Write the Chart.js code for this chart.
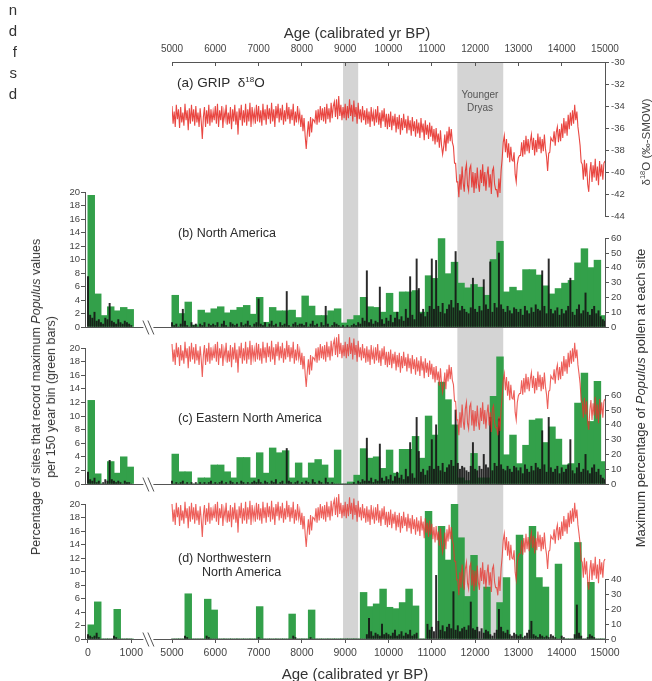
<!DOCTYPE html>
<html><head><meta charset="utf-8">
<script src="https://cdn.jsdelivr.net/npm/chart.js@4.4.1/dist/chart.umd.min.js"></script>
<style>
html,body{margin:0;padding:0;background:#fff;}
#wrap{position:relative;width:652px;height:681px;overflow:hidden;font-family:"Liberation Sans",Arial,sans-serif;color:#2b2b2b;}
#wrap canvas{position:absolute;left:0;top:0;}
.t{position:absolute;white-space:nowrap;line-height:1;}
.c{transform:translate(-50%,-50%);}
.rot{position:absolute;white-space:nowrap;transform:translate(-50%,-50%) rotate(-90deg);text-align:center;}
</style></head><body>
<div id="wrap">
<canvas id="cA" width="652" height="681"></canvas>
<canvas id="cB" width="652" height="681"></canvas>
<canvas id="cC" width="652" height="681"></canvas>
<canvas id="cD" width="652" height="681"></canvas>

<div class="t" style="right:635px;top:-1px;font-size:15px;line-height:21px;text-align:right;color:#333">n<br>d<br>f<br>s<br>d</div>
<div class="t c" style="left:357px;top:32px;font-size:15px;color:#333">Age (calibrated yr BP)</div>
<div class="t c" style="left:355px;top:673px;font-size:15px;color:#333">Age (calibrated yr BP)</div>
<div class="t" style="left:177px;top:76px;font-size:13.5px">(a) GRIP&nbsp; δ<sup style="font-size:8px;vertical-align:5px">18</sup>O</div>
<div class="t c" style="left:480px;top:95px;font-size:10px;color:#555">Younger</div>
<div class="t c" style="left:480px;top:108px;font-size:10px;color:#555">Dryas</div>
<div class="t" style="left:178px;top:227px;font-size:12.5px">(b) North America</div>
<div class="t" style="left:178px;top:412px;font-size:12.5px">(c) Eastern North America</div>
<div class="t" style="left:178px;top:552px;font-size:12.5px">(d) Northwestern</div>
<div class="t" style="left:202px;top:566px;font-size:12.5px">North America</div>
<div class="rot" style="left:645px;top:142px;font-size:11.5px;color:#444">δ<sup style="font-size:7.5px">18</sup>O (‰-SMOW)</div>
<div class="rot" style="left:640px;top:398px;font-size:13px;color:#333">Maximum percentage of <i>Populus</i> pollen at each site</div>
<div class="rot" style="left:44px;top:397px;font-size:12.5px;line-height:15px;color:#333">Percentage of sites that record maximum <i>Populus</i> values<br>per 150 year bin (green bars)</div>
</div>
<script>
// ---------------- DATA ----------------
// GRIP delta-18O (per mil), 25-year steps from 5000 to 15000 yr BP
const GRIP_START = 5000, GRIP_STEP = 25;
const GRIP_D18O = [
 -34.0,-35.6,-34.5,-35.9,-33.9,-35.2,-34.3,-36.0,-34.1,-35.5,-34.6,-35.8,-33.8,-35.3,-34.4,-36.2,-34.2,-35.6,-33.9,-35.4,
 -34.3,-35.8,-34.0,-35.5,-34.6,-35.9,-34.2,-35.4,-37.0,-35.0,-34.1,-35.9,-34.4,-35.6,-33.9,-35.8,-34.3,-35.5,-34.5,-35.3,
 -34.0,-35.6,-33.8,-35.9,-34.4,-35.3,-34.0,-36.0,-34.5,-35.2,-33.9,-35.7,-34.6,-35.6,-34.1,-36.1,-34.3,-35.4,-33.9,-35.7,
 -34.5,-36.6,-34.2,-35.3,-33.9,-35.8,-34.4,-35.5,-33.8,-35.8,-34.3,-35.4,-33.7,-35.9,-34.1,-35.3,-34.5,-35.6,-33.9,-35.4,
 -34.0,-35.5,-34.4,-35.8,-33.8,-35.3,-34.3,-35.7,-33.9,-35.2,-34.2,-35.6,-33.7,-35.4,-34.3,-35.9,-34.0,-35.1,-33.8,-35.5,
 -34.2,-35.3,-33.9,-35.7,-34.4,-35.4,-33.7,-35.2,-34.1,-35.6,-34.3,-35.3,-33.8,-35.8,-34.5,-35.5,-34.0,-35.3,-34.6,-35.9,
 -34.8,-36.3,-35.1,-36.7,-37.9,-36.5,-35.4,-36.8,-35.0,-36.4,-35.2,-35.3,-35.5,-34.4,-35.7,-34.3,-35.5,-34.0,-35.3,-34.2,
 -35.4,-34.1,-35.6,-33.8,-35.2,-34.2,-35.5,-33.7,-35.1,-34.0,-33.6,-35.0,-33.4,-35.2,-33.1,-34.9,-33.9,-35.3,-34.1,-35.1,
 -33.8,-35.3,-34.0,-35.1,-33.4,-34.9,-33.9,-35.4,-33.5,-35.0,-34.1,-35.6,-33.7,-35.2,-34.3,-35.5,-34.0,-35.3,-34.4,-35.7,
 -34.2,-35.6,-34.5,-35.9,-34.1,-35.4,-34.6,-35.8,-34.3,-35.5,-34.0,-35.7,-34.6,-36.0,-34.4,-35.4,-34.2,-35.9,-34.7,-36.1,
 -34.7,-35.9,-34.5,-36.2,-34.9,-35.8,-34.7,-36.4,-35.0,-36.1,-34.8,-36.6,-35.1,-36.2,-34.7,-36.0,-35.2,-36.5,-34.9,-36.2,
 -35.3,-36.7,-35.0,-36.3,-35.4,-36.8,-35.2,-36.5,-35.5,-36.9,-35.1,-36.4,-35.6,-37.1,-35.3,-36.6,-35.7,-37.0,-35.5,-36.8,
 -35.8,-37.2,-36.1,-37.5,-36.0,-37.3,-36.5,-37.8,-36.2,-37.6,-38.4,-37.7,-36.6,-38.1,-36.3,-37.4,-35.9,-37.2,-36.1,-37.3,
 -37.7,-39.2,-39.2,-40.9,-40.9,-42.3,-40.2,-41.6,-39.5,-41.0,-41.8,-39.9,-39.3,-41.2,-41.7,-39.7,-39.4,-41.4,-40.0,-41.9,
 -40.1,-41.5,-39.6,-41.1,-41.8,-39.8,-41.0,-39.3,-41.3,-40.0,-41.7,-40.3,-39.5,-41.4,-40.2,-42.0,-39.9,-39.6,-41.1,-41.6,
 -41.6,-42.3,-40.6,-41.9,-39.9,-38.8,-37.3,-36.7,-38.2,-37.0,-38.7,-37.4,-39.1,-37.7,-38.9,-39.0,-38.2,-40.2,-40.9,-39.3,
 -38.7,-38.5,-38.5,-37.3,-38.6,-37.1,-38.4,-36.7,-38.1,-37.0,-38.3,-37.2,-36.6,-38.0,-36.9,-38.5,-37.1,-38.2,-36.5,-37.9,
 -36.8,-38.3,-37.0,-38.1,-36.6,-37.9,-38.6,-39.9,-38.3,-38.2,-36.9,-37.1,-37.2,-36.3,-37.6,-36.4,-35.9,-37.3,-36.1,-37.2,
 -35.6,-36.9,-35.1,-36.5,-35.4,-36.7,-34.8,-36.1,-34.6,-35.8,-34.4,-35.6,-33.9,-35.3,-34.5,-35.9,-36.7,-37.6,-39.1,-39.3,
 -40.7,-38.9,-40.4,-39.2,-41.1,-41.8,-40.0,-39.1,-40.9,-39.4,-40.5,-38.8,-40.8,-39.5,-41.2,-39.0,-40.4,-39.3,-40.7,-39.2,
 -39.0];

// 150-year bins (bin start ages): recent segment and 5000-15000 segment
const BIN_WIDTH = 150;
const BINS_LEFT = [0,150,300,450,600,750,900];
const BINS_MAIN = Array.from({length:67},(_,k)=>5000+BIN_WIDTH*k);

// Green bars: % of sites recording maximum Populus per bin
const GREEN_B_LEFT = [19.5,4.9,1.7,3.0,2.4,2.9,2.6];
const GREEN_B_MAIN = [4.7,2.0,3.7,0.3,2.5,2.1,2.7,3.0,2.1,2.5,2.9,3.2,1.9,4.4,0.7,2.9,2.4,2.4,2.5,1.4,4.6,3.1,1.7,1.7,2.4,2.7,0.6,1.1,1.7,
 4.4,3.0,2.9,2.2,5.0,2.2,5.2,5.2,5.4,2.2,7.6,7.2,13.1,7.9,9.6,6.5,5.8,6.3,5.9,4.7,10.0,12.7,5.2,5.9,5.4,8.5,8.5,7.7,6.1,4.9,5.7,6.5,6.9,9.5,11.6,8.8,9.9,1.7];
const GREEN_C_LEFT = [12.3,1.5,0,3.3,1.6,4.0,2.5];
const GREEN_C_MAIN = [4.4,1.8,1.8,0,0.9,0.9,2.8,2.8,1.8,0.9,3.9,3.9,0.9,4.6,1.6,5.3,4.6,4.9,0.9,3.1,0.9,3.1,3.6,2.8,0.9,5.0,0,0.3,1.3,
 5.2,3.8,4.0,2.3,5.0,1.6,5.1,5.1,7.0,3.8,10.0,7.2,15.0,12.4,8.7,0.9,0.5,4.5,0.9,0.9,12.9,18.7,4.3,7.2,3.0,5.7,9.4,9.6,6.1,8.4,6.6,2.8,3.0,11.9,16.3,9.2,15.1,3.3];
const GREEN_D_LEFT = [2.1,5.5,0,0,4.4,0,0];
const GREEN_D_MAIN = [0,0,6.7,0,0,5.9,4.3,0,0,0,0,0,0,4.8,0,0,0,0,3.7,0,0,4.3,0,0,0,0,0,0,0,
 6.9,4.8,5.2,7.4,4.7,4.5,5.4,7.4,4.9,0,18.9,0,16.7,11.7,20.1,15.0,6.3,12.4,0,7.7,0,5.4,9.1,0,15.4,0,16.7,9.1,7.7,0,11.1,0,0,14.3,0,8.4,0,0];

// Black bars: maximum Populus pollen % at sites, 50-year steps
const SITE_STEP = 50;
const SITE_AGES_LEFT = Array.from({length:21},(_,i)=>i*SITE_STEP);
const SITE_AGES_MAIN = Array.from({length:201},(_,i)=>5000+i*SITE_STEP);
const BLACK_B_LEFT = [34,8,6,10,4,5,3,2,6,5,16,4,3,2,5,3,2,4,3,2,1];
const BLACK_B_MAIN = [
 3,1,2,0,2,12,4,1,0,3,1,2,0,2,1,3,0,2,1,2,
 1,3,0,2,4,1,0,3,2,1,2,0,3,1,2,4,1,0,2,3,
 19,2,1,3,0,2,4,1,2,0,3,1,2,24,1,0,2,3,1,2,
 2,1,3,0,2,4,1,2,0,3,1,14,2,0,1,3,2,1,0,1,
 0,1,0,1,2,1,3,2,6,4,38,3,5,2,4,3,27,5,2,6,
 4,8,3,6,10,5,7,4,12,6,34,8,5,46,26,9,12,7,10,14,
 46,12,45,14,10,16,9,12,15,18,13,51,16,11,14,12,10,9,13,33,
 12,10,14,11,32,15,12,44,10,16,13,50,15,12,10,14,11,9,13,12,
 10,12,8,14,11,9,13,10,15,12,11,38,14,9,46,12,9,11,13,8,
 12,9,11,14,33,10,8,12,15,9,11,23,10,8,12,14,9,11,7,5,
 4];
const BLACK_C_LEFT = [8,3,2,4,1,2,0,1,3,2,16,3,2,1,2,1,0,2,1,1,0];
const BLACK_C_MAIN = [
 2,0,1,0,1,2,0,1,0,1,0,1,0,1,0,1,0,1,2,0,
 1,0,1,2,0,1,0,2,1,0,1,0,2,1,0,1,0,1,2,1,
 3,1,0,2,1,0,2,1,3,0,1,2,0,24,2,1,0,1,2,0,
 1,0,2,1,0,3,1,0,2,1,0,4,1,0,1,0,0,0,0,0,
 0,0,0,0,1,0,2,1,3,2,31,2,4,1,3,2,27,4,2,5,
 3,6,2,5,8,4,6,3,10,5,28,7,4,45,22,8,10,6,9,12,
 30,10,40,12,9,14,8,11,13,16,12,50,14,10,12,11,9,8,12,28,
 10,9,12,10,20,13,11,45,9,14,12,44,13,10,9,12,10,8,12,11,
 9,11,7,13,10,8,12,9,14,11,10,36,13,8,45,11,8,10,12,7,
 11,8,10,13,30,9,7,11,14,8,10,20,9,7,11,13,8,10,6,4,
 3];
const BLACK_D_LEFT = [3,2,1,2,4,1,0,0,0,0,0,0,2,1,0,0,0,0,0,0,0];
const BLACK_D_MAIN = [
 0,0,0,0,0,0,2,1,0,0,0,0,0,0,0,0,2,1,0,0,
 0,0,0,0,0,0,0,0,0,0,0,0,0,0,0,0,0,0,0,0,
 1,0,0,0,0,0,0,0,0,0,0,0,0,0,0,0,2,1,0,0,
 0,0,0,0,1,0,0,0,0,0,0,0,0,0,0,0,0,0,0,0,
 0,0,0,0,0,0,0,0,0,0,3,14,5,2,4,3,2,10,3,4,
 3,2,4,6,2,3,5,2,4,3,6,2,3,4,0,0,0,0,10,6,
 8,5,43,12,6,9,5,8,10,7,32,6,9,5,7,8,6,9,25,7,
 6,8,5,7,4,6,5,3,2,4,6,20,8,5,4,6,3,2,4,3,
 2,3,1,2,4,6,12,3,2,1,3,2,1,2,1,3,2,1,0,0,
 2,1,0,0,0,0,3,23,4,2,0,0,1,3,2,1,0,0,0,0,
 0];

// Shaded intervals (yr BP)
const SHADED = [[8950,9300],[11590,12650]];
// Tick labels
const TOP_TICKS = [5000,6000,7000,8000,9000,10000,11000,12000,13000,14000,15000];
const BOTTOM_TICKS = [0,1000,5000,6000,7000,8000,9000,10000,11000,12000,13000,14000,15000];
const D18O_TICKS = [-30,-32,-34,-36,-38,-40,-42,-44];
const PCT_TICKS = [0,2,4,6,8,10,12,14,16,18,20];

// ---------------- LAYOUT ----------------
const L = {W:652,H:681,axisLeft:85,x5000:172,x15000:605,aTop:62,aBottom:216,bandBottom:639,rightPxPerUnit:1.48};
const PX_PER_YR = (L.x15000-L.x5000)/10000;
const BREAK_GAP = 3060;               // years removed by the axis break
const eff = yr => yr < 3000 ? yr : yr - BREAK_GAP;
const uneff = v => v < 1700 ? v : v + BREAK_GAP;
const X_MIN = eff(5000) - (L.x5000 - L.axisLeft)/PX_PER_YR;
const X_MAX = eff(15000);
const BREAK_EFF = 1395;
const D18O_PX = (L.aBottom-L.aTop)/14;

Chart.defaults.font.family = '"Liberation Sans", Arial, sans-serif';
Chart.defaults.color = '#444';
Chart.defaults.animation = false;

const AXIS_COLOR = '#555';
const RED = 'rgba(230,45,40,0.88)';
const RED_OVER = 'rgba(232,50,44,0.78)';
const GREEN = '#33a04a';
const BLACK = 'rgba(20,20,20,0.9)';

const gripPts = GRIP_D18O.map((v,i)=>({x:eff(GRIP_START+i*GRIP_STEP), y:v}));
function binPts(left, main){
  return BINS_LEFT.map((b,i)=>({x:eff(b+BIN_WIDTH/2), y:left[i]}))
    .concat(BINS_MAIN.map((b,i)=>({x:eff(b+BIN_WIDTH/2), y:main[i]})));
}
function sitePts(left, main){
  return SITE_AGES_LEFT.map((a,i)=>({x:eff(a), y:left[i]}))
    .concat(SITE_AGES_MAIN.map((a,i)=>({x:eff(a), y:main[i]})));
}

const bandsPlugin = {
  id:'bands',
  beforeDraw(chart){
    const {ctx, scales:{x}, chartArea} = chart;
    ctx.save(); ctx.fillStyle = '#d4d4d4';
    SHADED.forEach(([s,e])=>{
      const x1 = x.getPixelForValue(s), x2 = x.getPixelForValue(e);
      ctx.fillRect(x1, chartArea.top, x2-x1, L.bandBottom-chartArea.top);
    });
    ctx.restore();
  }
};

const decoPlugin = {
  id:'deco',
  afterDatasetsDraw(chart, args, opts){
    const {ctx, scales:{x, yL, yR}} = chart;
    ctx.save(); ctx.strokeStyle = AXIS_COLOR; ctx.lineWidth = 1;
    const rx = Math.round(yR.left)+0.5;
    ctx.beginPath(); ctx.moveTo(rx, yR.getPixelForValue(0)+0.5); ctx.lineTo(rx, yR.getPixelForValue(opts.rTop)); ctx.stroke();
    const by = Math.round(yL.getPixelForValue(0))+0.5;
    const bx = x.getPixelForValue(BREAK_EFF);
    ctx.beginPath();
    ctx.moveTo(x.getPixelForValue(X_MIN), by); ctx.lineTo(bx-5, by);
    ctx.moveTo(bx+5, by); ctx.lineTo(x.getPixelForValue(X_MAX), by);
    ctx.stroke();
    ctx.beginPath();
    [-2.5,2.5].forEach(d=>{ ctx.moveTo(bx+d-3, by-7); ctx.lineTo(bx+d+3, by+7); });
    ctx.stroke();
    ctx.restore();
  }
};

// ---------- Chart (a) ----------
new Chart(document.getElementById('cA'), {
  type:'line',
  data:{datasets:[{label:'GRIP δ18O', data:GRIP_D18O.map((v,i)=>({x:GRIP_START+i*GRIP_STEP,y:v})),
    borderColor:RED, borderWidth:1.1, pointRadius:0, tension:0}]},
  options:{
    responsive:false, devicePixelRatio:1, events:[],
    layout:{autoPadding:false, padding:{left:L.x5000, right:0, top:0, bottom:L.H-L.aBottom}},
    plugins:{legend:{display:false}, tooltip:{enabled:false}},
    scales:{
      x:{type:'linear', position:'top', min:5000, max:15000, afterFit(s){s.height=L.aTop;},
        afterBuildTicks(s){ s.ticks = TOP_TICKS.map(v=>({value:v})); },
        ticks:{autoSkip:false, maxRotation:0, padding:11, font:{size:10}, color:'#444', callback:v=>String(v)},
        grid:{drawOnChartArea:false, tickLength:-4, color:AXIS_COLOR}, border:{color:AXIS_COLOR}},
      y:{position:'right', min:-44, max:-30, afterFit(s){s.width=L.W-L.x15000;},
        afterBuildTicks(s){ s.ticks = D18O_TICKS.map(v=>({value:v})); },
        ticks:{autoSkip:false, padding:2, font:{size:9.5}, color:'#444', callback:v=>String(v)},
        grid:{drawOnChartArea:false, tickLength:4, color:AXIS_COLOR}, border:{color:AXIS_COLOR}}
    }
  },
  plugins:[bandsPlugin]
});

// ---------- Panels (b), (c), (d) ----------
function panel(id, cfg){
  const h = cfg.bottom - cfg.top;
  const datasets = [];
  if (cfg.redOffset != null){
    datasets.push({type:'line', label:'GRIP δ18O', data:gripPts, yAxisID:'yD', borderColor:RED_OVER, borderWidth:1.1,
      pointRadius:0, tension:0, clip:false, order:0});
  }
  datasets.push({type:'bar', label:'Maximum Populus %', data:sitePts(cfg.blackL,cfg.blackM), yAxisID:'yR',
    backgroundColor:BLACK, barThickness:1.3, grouped:false, order:1});
  datasets.push({type:'bar', label:'% of sites', data:binPts(cfg.greenL,cfg.greenM), yAxisID:'yL',
    backgroundColor:GREEN, barThickness:BIN_WIDTH*PX_PER_YR+0.3, grouped:false, order:2});
  const bottomH = cfg.bottomAxis ? L.H - cfg.bottom : 0;
  const scales = {
    x:{type:'linear', min:X_MIN, max:X_MAX, offset:false, display:!!cfg.bottomAxis, afterFit(s){s.height=bottomH;},
      afterBuildTicks(s){ s.ticks = BOTTOM_TICKS.map(v=>({value:eff(v)})); },
      ticks:{autoSkip:false, maxRotation:0, padding:3.5, font:{size:10.5}, color:'#444', callback:v=>String(uneff(v))},
      grid:{offset:false, drawOnChartArea:false, tickLength:4, color:AXIS_COLOR}, border:{display:false}},
    yL:{position:'left', min:0, max:20, afterFit(s){s.width=L.axisLeft;},
      afterBuildTicks(s){ s.ticks = PCT_TICKS.map(v=>({value:v})); },
      ticks:{autoSkip:false, padding:1, font:{size:9.5}, color:'#444', callback:v=>String(v)},
      grid:{drawOnChartArea:false, tickLength:4, color:AXIS_COLOR}, border:{color:AXIS_COLOR}},
    yR:{position:'right', min:0, max:h/L.rightPxPerUnit, afterFit(s){s.width=L.W-L.x15000;},
      afterBuildTicks(s){ s.ticks = s.ticks.filter(t=>t.value<=cfg.rTop); },
      ticks:{autoSkip:false, stepSize:10, padding:2, font:{size:9.5}, color:'#444', callback:v=>String(v)},
      grid:{drawOnChartArea:false, tickLength:4, color:AXIS_COLOR}, border:{display:false}},
  };
  if (cfg.redOffset != null){
    const t0 = L.aTop + cfg.redOffset;
    scales.yD = {display:false, position:'right', max:-30-(cfg.top-t0)/D18O_PX, min:-30-(cfg.bottom-t0)/D18O_PX};
  }
  new Chart(document.getElementById(id), {
    type:'bar',
    data:{datasets},
    options:{
      responsive:false, devicePixelRatio:1, events:[],
      layout:{autoPadding:false, padding:{left:0, right:0, top:cfg.top, bottom:L.H-cfg.bottom-bottomH}},
      plugins:{legend:{display:false}, tooltip:{enabled:false}, deco:{rTop:cfg.rTop}},
      scales
    },
    plugins:[decoPlugin]
  });
}

panel('cB', {top:192, bottom:327, rTop:60, greenL:GREEN_B_LEFT, greenM:GREEN_B_MAIN, blackL:BLACK_B_LEFT, blackM:BLACK_B_MAIN});
panel('cC', {top:348, bottom:484, rTop:60, redOffset:238, greenL:GREEN_C_LEFT, greenM:GREEN_C_MAIN, blackL:BLACK_C_LEFT, blackM:BLACK_C_MAIN});
panel('cD', {top:504, bottom:639, rTop:40, redOffset:398, bottomAxis:true, greenL:GREEN_D_LEFT, greenM:GREEN_D_MAIN, blackL:BLACK_D_LEFT, blackM:BLACK_D_MAIN});
</script>
</body></html>
